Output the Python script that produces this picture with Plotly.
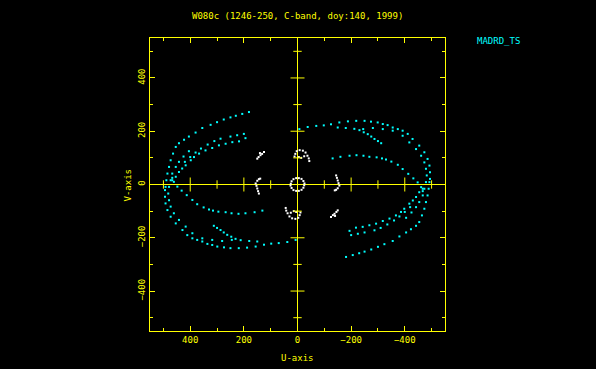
import plotly.graph_objects as go

title_text = "W080c (1246-250, C-band, doy:140, 1999)"
station_label = "MADRD_TS"
x_title = "U-axis"
y_title = "V-axis"

# Cyan tracks (baselines to MADRD_TS), one half of the (u, v) plane; conjugates are also plotted
trackA_u = [-7, -38, -70, -98, -125, -156, -188, -219, -250, -274, -299, -318, -336, -355, -374, -392, -411, -429,
            -454, -473, -485, -492, -494, -494, -492, -489, -485, -479, -473, -464, -454, -442, -423, -405, -380,
            -355, -324, -300, -275, -250, -230, -206, -181]
trackA_v = [208, 216, 220, 222, 226, 233, 237, 239, 239, 236, 233, 227, 223, 214, 208, 202, 190, 171,
            146, 121, 96, 71, 46, 21, 9, -16, -41, -66, -91, -116, -141, -155, -168, -180, -195,
            -212, -224, -234, -244, -252, -258, -265, -272]
trackA2_u = [-150, -180, -212, -245, -281, -318, -355, -392, -417, -442, -461, -473, -479, -482, -479, -473,
             -467, -454, -442, -425, -405]
trackA2_v = [214, 212, 209, 208, 212, 208, 202, 183, 158, 133, 108, 83, 59, 34, 9, -16,
             -41, -66, -85, -105, -125]
trackC_u = [-231, -247, -262, -275, -287, -300, -312]
trackC_v = [204, 196, 189, 180, 171, 163, 155]
trackB1_u = [-131, -160, -194, -220, -246, -268, -295, -315, -330, -350, -374, -392, -413, -432, -448, -461, -467]
trackB1_v = [98, 104, 108, 110, 108, 104, 102, 98, 94, 86, 74, 58, 40, 23, 8, -10, -25]
trackB2_u = [-194, -218, -243, -268, -293, -318, -343, -367, -386, -398, -417, -430, -442, -454, -467]
trackB2_v = [-174, -162, -159, -153, -147, -137, -128, -116, -103, -91, -72, -60, -47, -29, -16]
trackD_u = [-200, -225, -250, -287, -310, -335, -360, -380, -400, -420]
trackD_v = [-190, -185, -180, -172, -163, -150, -135, -120, -103, -85]

# White tracks (other baselines)
white1_u = [11, 8, 3, -8, -20, -30, -37, -42, -44, -5, -14, -25]
white1_v = [105, 115, 125, 129, 127, 120, 108, 98, 88, 103, 100, 106]
white2_u = [-144, -147, -150, -153, -156, -150, -144, -139]
white2_v = [34, 25, 15, 5, -4, -14, -20, -22]
white3_u = [-125, -132, -138, -145, -150, -140]
white3_v = [-122, -115, -110, -103, -97, -118]
ring_u = [25, 22, 15, 5, -5, -15, -22, -26]
ring_v = [3, 12, 20, 24, 24, 21, 13, 4]

axis_range = 550
major_ticks = [-400, -200, 200, 400]
minor_ticks = [-500, -300, -100, 100, 300, 500]

YELLOW = "#ffff00"
CYAN = "#00ffff"
FONT = "DejaVu Sans Mono"

cyan_tracks = [(trackA_u, trackA_v), (trackA2_u, trackA2_v), (trackC_u, trackC_v),
               (trackB1_u, trackB1_v), (trackB2_u, trackB2_v), (trackD_u, trackD_v)]
white_tracks = [(white1_u, white1_v), (white2_u, white2_v), (white3_u, white3_v), (ring_u, ring_v)]


def with_conjugate(tracks):
    us, vs = [], []
    for u, v in tracks:
        us += list(u) + [-x for x in u]
        vs += list(v) + [-y for y in v]
    return us, vs


fig = go.Figure()

wu, wv = with_conjugate(white_tracks)
fig.add_trace(go.Scatter(x=wu, y=wv, mode="markers",
                         marker=dict(symbol="square", size=2, color="#ffffff", line=dict(width=0)),
                         showlegend=False, hoverinfo="skip"))
cu, cv = with_conjugate(cyan_tracks)
fig.add_trace(go.Scatter(x=cu, y=cv, mode="markers",
                         marker=dict(symbol="square", size=2, color=CYAN, line=dict(width=0)),
                         showlegend=False, hoverinfo="skip"))

# ticks on the crosshair axes
for ticks, size in ((major_ticks, 10), (minor_ticks, 6)):
    fig.add_trace(go.Scatter(x=ticks, y=[0] * len(ticks), mode="markers",
                             marker=dict(symbol="line-ns", size=size, line=dict(color=YELLOW, width=1)),
                             showlegend=False, hoverinfo="skip"))
    fig.add_trace(go.Scatter(x=[0] * len(ticks), y=ticks, mode="markers",
                             marker=dict(symbol="line-ew", size=size, line=dict(color=YELLOW, width=1)),
                             showlegend=False, hoverinfo="skip"))

axis_common = dict(
    showgrid=False, zeroline=True, zerolinecolor=YELLOW, zerolinewidth=1,
    showline=True, linecolor=YELLOW, linewidth=1, mirror="ticks",
    ticks="inside", ticklen=5, tickwidth=1, tickcolor=YELLOW,
    tickmode="linear", tick0=0, dtick=200,
    minor=dict(ticks="inside", ticklen=3, tickwidth=1, tickcolor=YELLOW, dtick=100, tick0=0, showgrid=False),
    tickfont=dict(family=FONT, size=9, color=YELLOW),
)

fig.update_xaxes(range=[axis_range, -axis_range], **axis_common)
fig.update_yaxes(range=[-axis_range, axis_range], tickangle=-90, **axis_common)

ann_font = dict(family=FONT, size=9, color=YELLOW)
fig.update_layout(
    width=596, height=369,
    margin=dict(l=150, r=151, t=38, b=38),
    paper_bgcolor="#000000", plot_bgcolor="#000000",
    showlegend=False,
    annotations=[
        dict(text=title_text, xref="paper", yref="paper", x=0.5, y=1.075, showarrow=False,
             xanchor="center", yanchor="middle", font=ann_font),
        dict(text=station_label, xref="paper", yref="paper", x=1.1017, y=0.99, showarrow=False,
             xanchor="left", yanchor="middle", font=dict(family=FONT, size=9, color=CYAN)),
        dict(text=x_title, xref="paper", yref="paper", x=0.5, y=-0.092, showarrow=False,
             xanchor="center", yanchor="middle", font=ann_font),
        dict(text=y_title, xref="paper", yref="paper", x=-0.0746, y=0.5, showarrow=False,
             xanchor="center", yanchor="middle", textangle=-90, font=ann_font),
    ],
)

fig.write_html("out.html", config={"displayModeBar": False},
               post_script="document.body.style.margin='0';document.body.style.background='#000';")
